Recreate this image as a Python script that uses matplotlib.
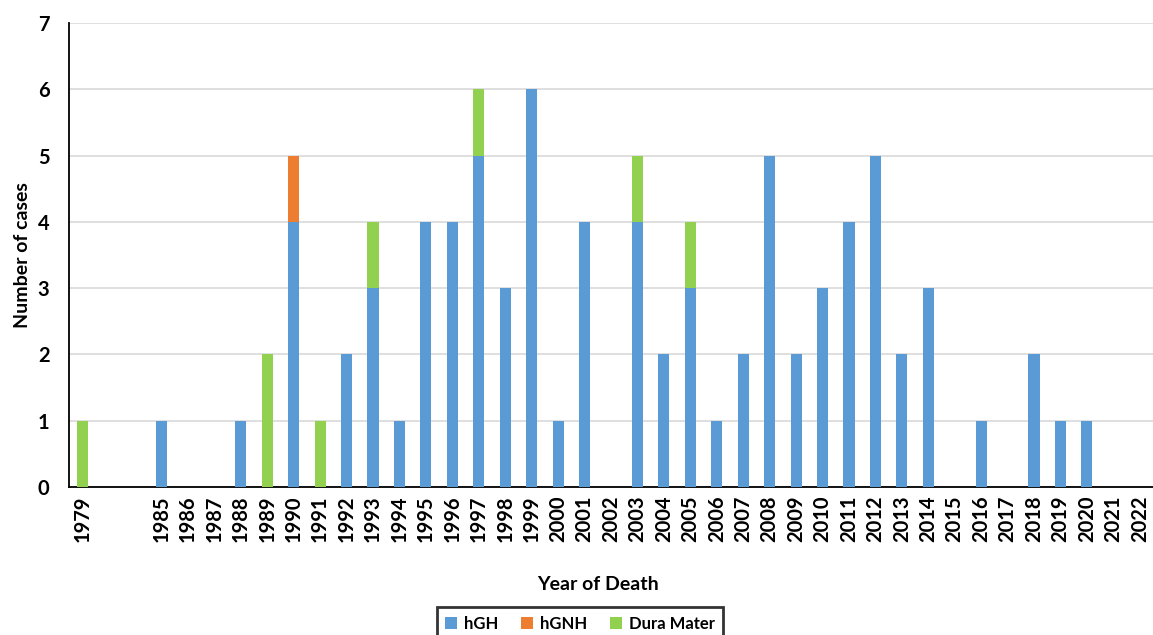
import matplotlib
matplotlib.use("Agg")
from matplotlib import pyplot as plt
import numpy as np

plt.rcParams['font.family'] = ['Lato', 'DejaVu Sans']
plt.rcParams['font.weight'] = 'bold'

years = ["1979", "", "", "1985", "1986", "1987", "1988", "1989", "1990", "1991",
         "1992", "1993", "1994", "1995", "1996", "1997", "1998", "1999", "2000",
         "2001", "2002", "2003", "2004", "2005", "2006", "2007", "2008", "2009",
         "2010", "2011", "2012", "2013", "2014", "2015", "2016", "2017", "2018",
         "2019", "2020", "2021", "2022"]
hgh = [0, 0, 0, 1, 0, 0, 1, 0, 4, 0,
       2, 3, 1, 4, 4, 5, 3, 6, 1,
       4, 0, 4, 2, 3, 1, 2, 5, 2,
       3, 4, 5, 2, 3, 0, 1, 0, 2,
       1, 1, 0, 0]
hgnh = [0, 0, 0, 0, 0, 0, 0, 0, 1, 0,
        0, 0, 0, 0, 0, 0, 0, 0, 0,
        0, 0, 0, 0, 0, 0, 0, 0, 0,
        0, 0, 0, 0, 0, 0, 0, 0, 0,
        0, 0, 0, 0]
dura = [1, 0, 0, 0, 0, 0, 0, 2, 0, 1,
        0, 1, 0, 0, 0, 1, 0, 0, 0,
        0, 0, 1, 0, 1, 0, 0, 0, 0,
        0, 0, 0, 0, 0, 0, 0, 0, 0,
        0, 0, 0, 0]

x = np.arange(len(years))
hgh = np.array(hgh)
hgnh = np.array(hgnh)
dura = np.array(dura)

fig = plt.figure(figsize=(11.53, 6.35), dpi=100)
# axes run up to the right edge, as in the reference
ax = fig.add_axes([69 / 1153, 1 - 487 / 635, 1084 / 1153, 464 / 635])

w = 0.42
ax.bar(x, hgh, w, color='#5B9BD5', label='hGH', zorder=3)
ax.bar(x, hgnh, w, bottom=hgh, color='#ED7D31', label='hGNH', zorder=3)
ax.bar(x, dura, w, bottom=hgh + hgnh, color='#92D050', label='Dura Mater', zorder=3)

ax.set_xlim(-0.5, len(years) - 0.5)
ax.set_ylim(0, 7)
ax.set_yticks(range(0, 8))
ax.set_xticks(x)
ax.set_xticklabels(years, rotation=90, fontsize=14.5, fontweight='bold')
ax.tick_params(axis='y', labelsize=14.5, length=0, pad=14)
ax.tick_params(axis='x', length=0, pad=6)
for lbl in ax.get_yticklabels():
    lbl.set_fontweight('bold')

ax.grid(axis='y', color='#D9D9D9', linewidth=1.2, zorder=0)
for s in ['top', 'right']:
    ax.spines[s].set_visible(False)
ax.spines['left'].set_color('black')
ax.spines['bottom'].set_color('black')
ax.spines['left'].set_linewidth(1.3)
ax.spines['bottom'].set_linewidth(1.3)

ax.set_ylabel('Number of cases', fontsize=14, fontweight='bold', labelpad=5)
fig.text(598 / 1153, 1 - 585 / 635, 'Year of Death', ha='center', va='center',
         fontsize=14, fontweight='bold')

leg = fig.legend(loc='upper center', bbox_to_anchor=(580 / 1153, 1 - 599 / 635),
                 ncol=3, frameon=True, fancybox=False, fontsize=12,
                 handlelength=0.7, handleheight=0.7, columnspacing=1.4,
                 handletextpad=0.4, borderpad=0.5)
leg.get_frame().set_edgecolor('black')
leg.get_frame().set_linewidth(2)

plt.savefig('out.png', dpi=100)
